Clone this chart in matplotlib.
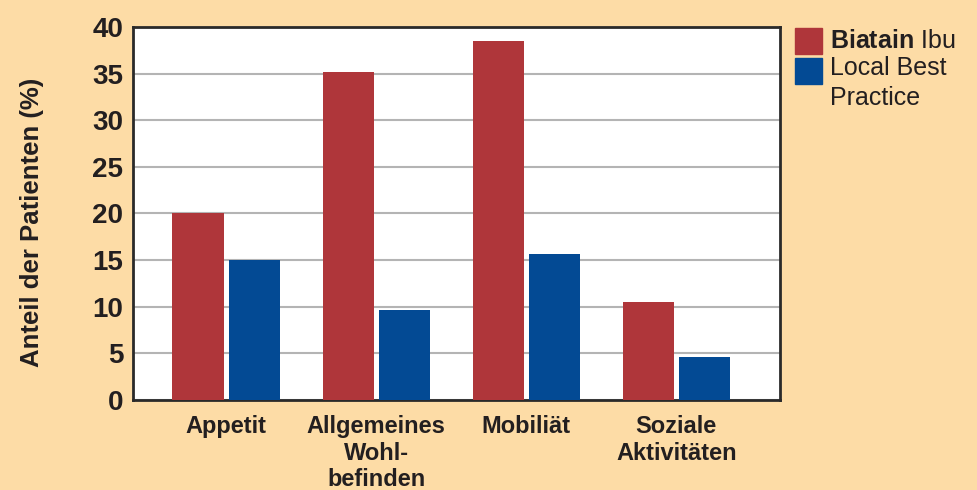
import matplotlib.pyplot as plt
import numpy as np
from matplotlib.patches import Rectangle

plt.rcParams['font.family'] = ['Liberation Sans', 'DejaVu Sans']
plt.rcParams['mathtext.fontset'] = 'custom'
plt.rcParams['mathtext.bf'] = 'Liberation Sans:bold'
plt.rcParams['mathtext.rm'] = 'Liberation Sans'

kategorien = ['Appetit', 'Allgemeines\nWohl-\nbefinden', 'Mobiliät', 'Soziale\nAktivitäten']
biatain = [20.0, 35.2, 38.5, 10.5]
local_best = [15.0, 9.7, 15.7, 4.6]
yticks = [0, 5, 10, 15, 20, 25, 30, 35, 40]

bg = '#FDDCA6'
rot = '#AF363A'
blau = '#034A94'
txt = '#231F20'

fig = plt.figure(figsize=(9.78, 4.9), dpi=100, facecolor=bg)
ax = fig.add_axes([0.136, 0.1837, 0.6615, 0.7613])
ax.set_facecolor('white')

x = np.arange(len(kategorien))
w = 0.34
ax.bar(x - 0.187, biatain, w, color=rot, zorder=3)
ax.bar(x + 0.187, local_best, w, color=blau, zorder=3)

ax.set_xlim(-0.62, 3.69)
ax.set_ylim(0, 40)
ax.set_yticks(yticks)
ax.set_yticklabels([str(t) for t in yticks], fontsize=20, fontweight='bold', color=txt)
ax.set_xticks(x)
ax.set_xticklabels(kategorien, fontsize=17, fontweight='bold', color=txt, linespacing=1.18)
ax.tick_params(axis='both', length=0)
ax.tick_params(axis='x', pad=11)
ax.tick_params(axis='y', pad=7)
ax.yaxis.grid(True, color='#B4B4B4', linewidth=1.5, zorder=0)
ax.set_axisbelow(True)
for s in ax.spines.values():
    s.set_color('#2A2A2A')
    s.set_linewidth(2)

ax.set_ylabel('Anteil der Patienten (%)', fontsize=18.5, fontweight='bold', color=txt)
ax.yaxis.set_label_coords(-(133 - 44) / 647, 0.475)

# Legende
fig.patches.append(Rectangle((795 / 978, 1 - 54 / 490), 27 / 978, 26 / 490,
                             transform=fig.transFigure, color=rot, figure=fig))
fig.patches.append(Rectangle((795 / 978, 1 - 84 / 490), 27 / 978, 26 / 490,
                             transform=fig.transFigure, color=blau, figure=fig))
fig.text(830 / 978, 1 - 41 / 490, r'$\mathbf{Biatain}$ Ibu', fontsize=18, color=txt, va='center')
fig.text(830 / 978, 1 - 56 / 490, 'Local Best\nPractice', fontsize=18, color=txt,
         va='top', linespacing=1.3)

fig.savefig('out.png', dpi=100, facecolor=bg)
